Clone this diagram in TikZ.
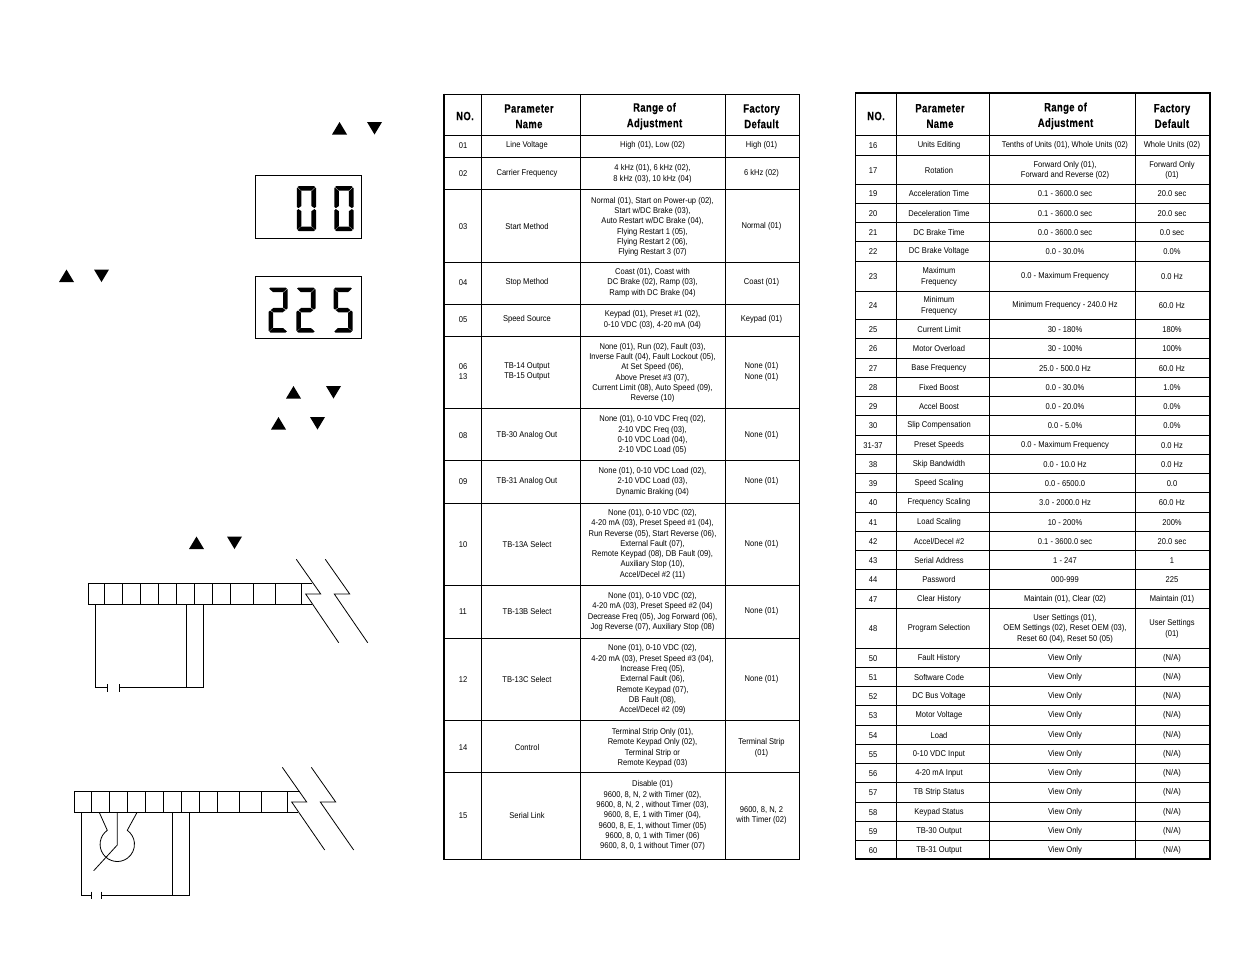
\documentclass[tikz,border=0pt]{standalone}
\usepackage{fontspec}
\setmainfont[FakeStretch=0.90]{Liberation Sans}
\newfontfamily\hdrfont[FakeStretch=0.79,LetterSpace=3,BoldFeatures={FakeBold=0.35}]{Liberation Sans}
\newcounter{cellno}
\tikzset{
  cell/.style={inner sep=0pt,align=center,font=\fontsize{8.4}{10.3}\selectfont,text=black,yshift=-0.7pt},
  hdr/.style={inner sep=0pt,align=center,font=\fontsize{12}{15.6}\selectfont\hdrfont\bfseries,text=black},
  thinrule/.style={line width=0.85pt,black},
  thickrule/.style={line width=1.7pt,black},
  wire/.style={line width=0.8pt,black,line join=miter},
  seg/.style={fill=black,draw=none},
  lcd/.style={draw=black,line width=0.9pt,fill=none},
  arrowkey/.style={fill=black,draw=none}
}
% table rows
\newcommand{\tcell}[3]{\stepcounter{cellno}\node[cell] (c\thecellno) at (#1,#2) {#3};}
\newcommand{\rowA}[5]{\tcell{463}{#1}{#2}\tcell{527}{#1}{#3}\tcell{652.5}{#1}{#4}\tcell{761.5}{#1}{#5}}
\newcommand{\rowB}[5]{\tcell{873}{#1}{#2}\tcell{939}{#1}{#3}\tcell{1065}{#1}{#4}\tcell{1172}{#1}{#5}}
% seven-segment digit, w=19, h=45, origin top-left
\newcommand{\sA}{\fill[seg] (2,0)--(17,0)--(18.4,1.1)--(14.6,4.6)--(4.4,4.6)--(0.8,1.1)--cycle;}
\newcommand{\sB}{\fill[seg] (19.2,2)--(19.2,20.8)--(17.6,22.1)--(14.6,20)--(14.6,5.3)--(18.6,1.6)--cycle;}
\newcommand{\sC}{\fill[seg] (19.2,24.4)--(19.2,43)--(18.6,43.6)--(14.6,40)--(14.6,25.2)--(17.6,23.1)--cycle;}
\newcommand{\sD}{\fill[seg] (2,45)--(17,45)--(18.4,44)--(14.6,40.5)--(4.4,40.5)--(0.8,44)--cycle;}
\newcommand{\sE}{\fill[seg] (0,24.4)--(0,43)--(0.6,43.6)--(4.6,40)--(4.6,25.2)--(1.6,23.1)--cycle;}
\newcommand{\sF}{\fill[seg] (0,2)--(0,20.8)--(1.6,22.1)--(4.6,20)--(4.6,5.3)--(0.6,1.6)--cycle;}
\newcommand{\sG}{\fill[seg] (2.2,22.6)--(5,20.4)--(14.2,20.4)--(17,22.6)--(14.2,24.8)--(5,24.8)--cycle;}
\newcommand{\digitzero}[2]{\begin{scope}[shift={(#1,#2)}]\sA\sB\sC\sD\sE\sF\end{scope}}
\newcommand{\digittwo}[2]{\begin{scope}[shift={(#1,#2)}]\sA\sB\sG\sE\sD\end{scope}}
\newcommand{\digitfive}[2]{\begin{scope}[shift={(#1,#2)}]\sA\sF\sG\sC\sD\end{scope}}
\newcommand{\keyup}[2]{\fill[arrowkey] (#1,#2+12.5)--(#1+15,#2+12.5)--(#1+7.5,#2)--cycle;}
\newcommand{\keydn}[2]{\fill[arrowkey] (#1,#2)--(#1+15,#2)--(#1+7.5,#2+12.5)--cycle;}
\begin{document}
\begin{tikzpicture}[x=1pt,y=-1pt]
\useasboundingbox (0,0) rectangle (1235,954);
% keys
\keyup{332}{122}\keydn{367}{122}
\keyup{59}{269.5}\keydn{94}{269.5}
\keyup{286}{386}\keydn{326}{386}
\keyup{271}{417}\keydn{310}{417}
\keyup{189}{536.5}\keydn{227}{536.5}
% displays
\draw[lcd] (255.5,175.5) rectangle (361,238);
\digitzero{296.8}{186}\digitzero{334.3}{186}
\draw[lcd] (255.5,276.5) rectangle (361,338.5);
\digittwo{268.5}{287.5}\digittwo{296.3}{287.5}\digitfive{333.5}{287.5}
% terminal strip 1
\draw[wire] (312,583.5)--(88.5,583.5)--(88.5,604.5)--(311.5,604.5);
\foreach \dx in {104.7,122.7,140.7,158.7,176.7,194.7,212.7,230.7,253.7,275.7,301.7}
  \draw[wire] (\dx,583.5)--(\dx,604.5);
\draw[wire] (296.3,559.3)--(320.7,594)--(305.7,594)--(338.7,642.7);
\draw[wire] (325.3,559.3)--(349.7,594)--(334.3,594)--(367.7,642.7);
\draw[wire] (95.7,604.5)--(95.7,687.3)--(107.3,687.3);
\draw[wire] (107.3,684)--(107.3,691.7);
\draw[wire] (119.3,684)--(119.3,691.7);
\draw[wire] (119.3,687.3)--(203.7,687.3)--(203.7,604.5);
\draw[wire] (186.7,604.5)--(186.7,687.3);
% terminal strip 2
\draw[wire] (299.5,791.5)--(74.5,791.5)--(74.5,812.5)--(297.5,812.5);
\foreach \dx in {91.7,109.7,127.7,145.7,163.7,181.7,199.7,217.7,239.7,261.7,287.7}
  \draw[wire] (\dx,791.5)--(\dx,812.5);
\draw[wire] (282.3,767.3)--(306.7,802)--(291.7,802)--(324.7,850);
\draw[wire] (311.3,767.3)--(335.7,802)--(320.3,802)--(353.7,850);
\draw[wire] (81.3,812.5)--(81.3,895.3)--(91.3,895.3);
\draw[wire] (91.3,891.7)--(91.3,899.3);
\draw[wire] (101.7,891.7)--(101.7,899.3);
\draw[wire] (101.7,895.3)--(189.3,895.3)--(189.3,812.5);
\draw[wire] (172.7,812.5)--(172.7,895.3);
% potentiometer
\draw[wire] (99.3,812.5)--(107.3,830.3) arc[start angle=125.5,end angle=414.5,radius=17.2pt] --(137,812.5);
\draw[wire] (117.3,812.5)--(117.3,845)--(93.7,870.7);
% table 1 rules
\foreach \yy in {135.5,157.5,189.5,262.5,304.5,336.5,408.5,460.5,503.5,585.5,638.5,720.5,772.5}
  \draw[thinrule] (444,\yy)--(799.5,\yy);
\foreach \xx in {481.5,580.5,725.5}
  \draw[thinrule] (\xx,94)--(\xx,859.5);
\draw[thinrule] (444,94)--(799.5,94)--(799.5,859.5)--(444,859.5);
\draw[thickrule] (444.3,93.5)--(444.3,860);
% table 2 rules
\foreach \yy in {135,155,184,203,222,241,261,291,319,338,358,377,396,415,435,454,473,492,512,531,550,569,589,608,648,667,686,705,725,744,763,782,802,821,840}
  \draw[thinrule] (855,\yy)--(1210,\yy);
\foreach \xx in {896.5,989.5,1135.5}
  \draw[thinrule] (\xx,93)--(\xx,859.5);
\draw[thickrule] (855.5,93.3) rectangle (1209.7,859.3);
% headers
\node[hdr] (h1a) at (465,116) {NO.};
\node[hdr] (h1b) at (529,116.3) {Parameter\\Name};
\node[hdr] (h1c) at (654.5,116.3) {Range of\\Adjustment};
\node[hdr] (h1d) at (761.5,116.3) {Factory\\Default};
\node[hdr] (h2a) at (876,116) {NO.};
\node[hdr] (h2b) at (940,116) {Parameter\\Name};
\node[hdr] (h2c) at (1065.5,116) {Range of\\Adjustment};
\node[hdr] (h2d) at (1172,116) {Factory\\Default};
% table 1
\rowA{145}{01}{Line Voltage}{High (01), Low (02)}{High (01)}
\rowA{173}{02}{Carrier Frequency}{4 kHz (01), 6 kHz (02),\\8 kHz (03), 10 kHz (04)}{6 kHz (02)}
\rowA{226}{03}{Start Method}{Normal (01), Start on Power-up (02),\\Start w/DC Brake (03),\\Auto Restart w/DC Brake (04),\\Flying Restart 1 (05),\\Flying Restart 2 (06),\\Flying Restart 3 (07)}{Normal (01)}
\rowA{282}{04}{Stop Method}{Coast (01), Coast with\\DC Brake (02), Ramp (03),\\Ramp with DC Brake (04)}{Coast (01)}
\rowA{319}{05}{Speed Source}{Keypad (01), Preset \#1 (02),\\0-10 VDC (03), 4-20 mA (04)}{Keypad (01)}
\tcell{463}{371}{06\\13}\tcell{527}{371}{TB-14 Output\\TB-15 Output}\tcell{652.5}{372}{None (01), Run (02), Fault (03),\\Inverse Fault (04), Fault Lockout (05),\\At Set Speed (06),\\Above Preset \#3 (07),\\Current Limit (08), Auto Speed (09),\\Reverse (10)}\tcell{761.5}{371}{None (01)\\None (01)}
\rowA{434.5}{08}{TB-30 Analog Out}{None (01), 0-10 VDC Freq (02),\\2-10 VDC Freq (03),\\0-10 VDC Load (04),\\2-10 VDC Load (05)}{None (01)}
\rowA{481}{09}{TB-31 Analog Out}{None (01), 0-10 VDC Load (02),\\2-10 VDC Load (03),\\Dynamic Braking (04)}{None (01)}
\rowA{543.5}{10}{TB-13A Select}{None (01), 0-10 VDC (02),\\4-20 mA (03), Preset Speed \#1 (04),\\Run Reverse (05), Start Reverse (06),\\External Fault (07),\\Remote Keypad (08), DB Fault (09),\\Auxiliary Stop (10),\\Accel/Decel \#2 (11)}{None (01)}
\rowA{611}{11}{TB-13B Select}{None (01), 0-10 VDC (02),\\4-20 mA (03), Preset Speed \#2 (04)\\Decrease Freq (05), Jog Forward (06),\\Jog Reverse (07), Auxiliary Stop (08)}{None (01)}
\rowA{679}{12}{TB-13C Select}{None (01), 0-10 VDC (02),\\4-20 mA (03), Preset Speed \#3 (04),\\Increase Freq (05),\\External Fault (06),\\Remote Keypad (07),\\DB Fault (08),\\Accel/Decel \#2 (09)}{None (01)}
\rowA{747}{14}{Control}{Terminal Strip Only (01),\\Remote Keypad Only (02),\\Terminal Strip or\\Remote Keypad (03)}{Terminal Strip\\(01)}
\rowA{815}{15}{Serial Link}{Disable (01)\\9600, 8, N, 2 with Timer (02),\\9600, 8, N, 2 , without Timer (03),\\9600, 8, E, 1 with Timer (04),\\9600, 8, E, 1, without Timer (05)\\9600, 8, 0, 1 with Timer (06)\\9600, 8, 0, 1 without Timer (07)}{9600, 8, N, 2\\with Timer (02)}
% table 2
\rowB{145}{16}{Units Editing}{Tenths of Units (01), Whole Units (02)}{Whole Units (02)}
\rowB{169.5}{17}{Rotation}{Forward Only (01),\\Forward and Reverse (02)}{Forward Only\\(01)}
\rowB{193}{19}{Acceleration Time}{0.1 - 3600.0 sec}{20.0 sec}
\rowB{212.5}{20}{Deceleration Time}{0.1 - 3600.0 sec}{20.0 sec}
\rowB{232}{21}{DC Brake Time}{0.0 - 3600.0 sec}{0.0 sec}
\rowB{251}{22}{DC Brake Voltage}{0.0 - 30.0\%}{0.0\%}
\rowB{276}{23}{Maximum\\Frequency}{0.0 - Maximum Frequency}{0.0 Hz}
\rowB{305}{24}{Minimum\\Frequency}{Minimum Frequency - 240.0 Hz}{60.0 Hz}
\rowB{329}{25}{Current Limit}{30 - 180\%}{180\%}
\rowB{348}{26}{Motor Overload}{30 - 100\%}{100\%}
\rowB{368}{27}{Base Frequency}{25.0 - 500.0 Hz}{60.0 Hz}
\rowB{387}{28}{Fixed Boost}{0.0 - 30.0\%}{1.0\%}
\rowB{406}{29}{Accel Boost}{0.0 - 20.0\%}{0.0\%}
\rowB{425}{30}{Slip Compensation}{0.0 - 5.0\%}{0.0\%}
\rowB{445}{31-37}{Preset Speeds}{0.0 - Maximum Frequency}{0.0 Hz}
\rowB{464}{38}{Skip Bandwidth}{0.0 - 10.0 Hz}{0.0 Hz}
\rowB{483}{39}{Speed Scaling}{0.0 - 6500.0}{0.0}
\rowB{502}{40}{Frequency Scaling}{3.0 - 2000.0 Hz}{60.0 Hz}
\rowB{522}{41}{Load Scaling}{10 - 200\%}{200\%}
\rowB{541}{42}{Accel/Decel \#2}{0.1 - 3600.0 sec}{20.0 sec}
\rowB{560}{43}{Serial Address}{1 - 247}{1}
\rowB{579}{44}{Password}{000-999}{225}
\rowB{599}{47}{Clear History}{Maintain (01), Clear (02)}{Maintain (01)}
\rowB{628}{48}{Program Selection}{User Settings (01),\\OEM Settings (02), Reset OEM (03),\\Reset 60 (04), Reset 50 (05)}{User Settings\\(01)}
\rowB{658}{50}{Fault History}{View Only}{(N/A)}
\rowB{677}{51}{Software Code}{View Only}{(N/A)}
\rowB{696}{52}{DC Bus Voltage}{View Only}{(N/A)}
\rowB{715}{53}{Motor Voltage}{View Only}{(N/A)}
\rowB{735}{54}{Load}{View Only}{(N/A)}
\rowB{754}{55}{0-10 VDC Input}{View Only}{(N/A)}
\rowB{773}{56}{4-20 mA Input}{View Only}{(N/A)}
\rowB{792}{57}{TB Strip Status}{View Only}{(N/A)}
\rowB{812}{58}{Keypad Status}{View Only}{(N/A)}
\rowB{831}{59}{TB-30 Output}{View Only}{(N/A)}
\rowB{850}{60}{TB-31 Output}{View Only}{(N/A)}
\end{tikzpicture}
\end{document}
